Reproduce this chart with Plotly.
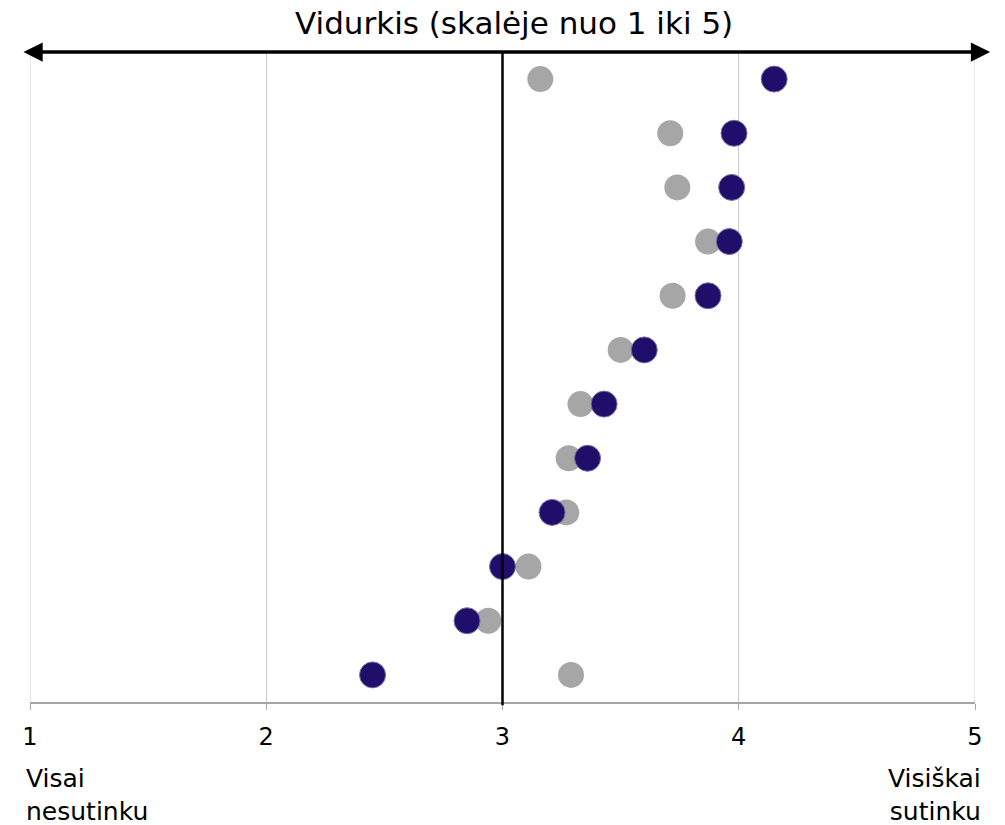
import plotly.graph_objects as go

# Twelve statements, top to bottom; mean score on a 1-5 scale
rows = list(range(12))
grey_values = [3.16, 3.71, 3.74, 3.87, 3.72, 3.50, 3.33, 3.28, 3.27, 3.11, 2.94, 3.29]
navy_values = [4.15, 3.98, 3.97, 3.96, 3.87, 3.60, 3.43, 3.36, 3.21, 3.00, 2.85, 2.45]
tick_values = [1, 2, 3, 4, 5]
tick_labels = ["1", "2", "3", "4", "5"]

FONT = "DejaVu Sans"
GRID = "#cccccc"

fig = go.Figure()

fig.add_trace(go.Scatter(
    x=grey_values, y=rows, mode="markers",
    marker=dict(size=26, color="#a6a6a6", line=dict(width=0)),
    hoverinfo="x", showlegend=False,
))
fig.add_trace(go.Scatter(
    x=navy_values, y=rows, mode="markers",
    marker=dict(size=26, color="#1f0f6b", line=dict(width=1, color="#7a6fa3")),
    hoverinfo="x", showlegend=False,
))

# Gridlines at the two ends of the scale
for edge in (tick_values[0], tick_values[-1]):
    fig.add_shape(type="line", xref="x", yref="paper", x0=edge, x1=edge, y0=0, y1=1,
                  line=dict(color=GRID, width=1), layer="below")

# Reference line at the scale midpoint
fig.add_shape(type="line", xref="x", yref="paper", x0=3, x1=3, y0=-0.005, y1=1,
              line=dict(color="black", width=2.5), layer="above")

# Double-headed arrow across the top of the plot
fig.add_annotation(
    xref="x domain", yref="y domain", x=1.016, y=1,
    axref="x domain", ayref="y domain", ax=-0.0085, ay=1,
    text="", showarrow=True,
    arrowhead=2, arrowside="end+start", arrowsize=1.1, arrowwidth=3.5, arrowcolor="black",
)

fig.add_annotation(
    xref="paper", yref="paper", x=0.512, y=1, yshift=29, text="Vidurkis (skalėje nuo 1 iki 5)",
    showarrow=False, font=dict(family=FONT, size=31, color="black"),
    xanchor="center", yanchor="middle",
)
fig.add_annotation(
    xref="paper", yref="paper", x=-0.006, y=0, yshift=-93, text="Visai<br>nesutinku",
    showarrow=False, align="left", xanchor="left", yanchor="middle",
    font=dict(family=FONT, size=25, color="black"),
)
fig.add_annotation(
    xref="paper", yref="paper", x=1.008, y=0, yshift=-93, text="Visiškai<br>sutinku",
    showarrow=False, align="right", xanchor="right", yanchor="middle",
    font=dict(family=FONT, size=25, color="black"),
)

fig.update_xaxes(
    range=[1, 5], tickvals=tick_values, ticktext=tick_labels,
    showgrid=True, gridcolor=GRID, gridwidth=1,
    showline=True, linecolor="#a6a6a6", linewidth=1.5,
    ticks="outside", ticklen=6, tickcolor="#a6a6a6", tickwidth=1,
    ticklabelstandoff=6,
    tickfont=dict(family=FONT, size=24, color="black"),
    zeroline=False, fixedrange=True,
)
fig.update_yaxes(
    range=[11.5, -0.5], showgrid=False, showticklabels=False,
    zeroline=False, showline=False, fixedrange=True,
)

fig.update_layout(
    width=1005, height=825,
    margin=dict(l=30, r=30, t=52, b=123),
    plot_bgcolor="white", paper_bgcolor="white",
    font=dict(family=FONT),
)

fig.write_html("out.html")
